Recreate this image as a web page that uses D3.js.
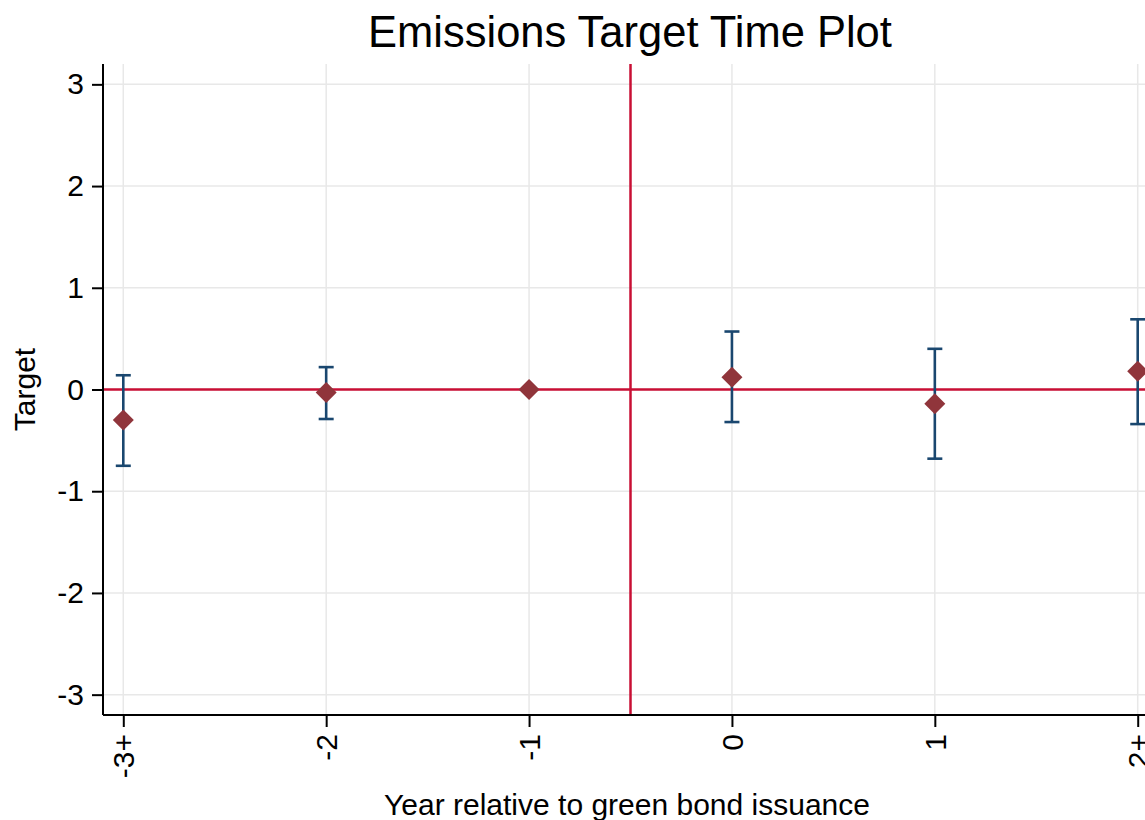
<!DOCTYPE html>
<html>
<head>
<meta charset="utf-8">
<script src="https://cdn.jsdelivr.net/npm/d3@7"></script>
<style>
  html, body { margin: 0; padding: 0; background: #ffffff; }
  svg { display: block; }
  text { font-family: "Liberation Sans", Arial, sans-serif; fill: #000; }
</style>
</head>
<body>
<div id="chart"></div>
<script>
// ---- data ----
const categories = ["-3+", "-2", "-1", "0", "1", "2+"];
const estimates  = [-0.30, -0.03, 0.00, 0.12, -0.14, 0.18];
const ciLower    = [-0.75, -0.29, null, -0.32, -0.68, -0.34];
const ciUpper    = [ 0.14,  0.22, null,  0.57,  0.40,  0.69];
const yTicks     = [-3, -2, -1, 0, 1, 2, 3];
const eventLine  = 2.5;   // between -1 and 0
const titleText  = "Emissions Target Time Plot";
const xTitle     = "Year relative to green bond issuance";
const yTitle     = "Target";

// ---- layout ----
const W = 1145, H = 820;
const pLeft = 103, pRight = 1158, pTop = 64, pBottom = 715;

const svg = d3.select("#chart").append("svg")
  .attr("width", W).attr("height", H);

const x = d3.scaleLinear().domain([-0.1, 5.1]).range([pLeft, pRight]);
const y = d3.scaleLinear().domain([-3.2, 3.2]).range([pBottom, pTop]);

const grid = "#e8e8e8";
const navy = "#1a476f";
const maroon = "#90353b";
const red = "#c80f34";

// gridlines
svg.append("g").selectAll("line").data(yTicks).join("line")
  .attr("x1", pLeft).attr("x2", W)
  .attr("y1", d => y(d)).attr("y2", d => y(d))
  .attr("stroke", grid).attr("stroke-width", 1.5);
svg.append("g").selectAll("line").data(categories).join("line")
  .attr("x1", (d, i) => x(i)).attr("x2", (d, i) => x(i))
  .attr("y1", pTop).attr("y2", pBottom)
  .attr("stroke", grid).attr("stroke-width", 1.5);

// reference lines
svg.append("line")
  .attr("x1", pLeft).attr("x2", W)
  .attr("y1", y(0)).attr("y2", y(0))
  .attr("stroke", red).attr("stroke-width", 2.5);
svg.append("line")
  .attr("x1", x(eventLine)).attr("x2", x(eventLine))
  .attr("y1", pTop).attr("y2", pBottom)
  .attr("stroke", red).attr("stroke-width", 2.5);

// axes
const yAxis = d3.axisLeft(y).tickValues(yTicks).tickSize(11).tickPadding(8)
  .tickFormat(d => d < 0 ? "-" + Math.abs(d) : String(d));
const gy = svg.append("g").attr("transform", `translate(${pLeft},0)`).call(yAxis);
gy.select(".domain").attr("d", `M0,${pTop}V${pBottom}`).attr("stroke", "#000").attr("stroke-width", 2);
gy.selectAll(".tick line").attr("stroke", "#000").attr("stroke-width", 2);
gy.selectAll(".tick text").style("font-size", "30px")
  .style("font-family", "'Liberation Sans', Arial, sans-serif").attr("fill", "#000");

const xAxis = d3.axisBottom(x).tickValues(d3.range(categories.length)).tickSize(12)
  .tickFormat(i => categories[i]);
const gx = svg.append("g").attr("transform", `translate(0,${pBottom})`).call(xAxis);
gx.select(".domain").attr("d", `M${pLeft},0H${W}`).attr("stroke", "#000").attr("stroke-width", 2);
gx.selectAll(".tick line").attr("stroke", "#000").attr("stroke-width", 2);
gx.selectAll(".tick text")
  .style("font-size", "30px")
  .style("font-family", "'Liberation Sans', Arial, sans-serif").attr("fill", "#000")
  .attr("text-anchor", "end")
  .attr("dominant-baseline", "central")
  .attr("dy", null)
  .attr("y", 0)
  .attr("transform", "translate(0,19) rotate(-90)");

// error bars
const ci = categories.map((c, i) => ({ i, lo: ciLower[i], hi: ciUpper[i] }))
  .filter(d => d.lo !== null);
const eb = svg.append("g").attr("stroke", navy).attr("stroke-width", 2.6).attr("fill", "none");
eb.append("g").selectAll("line").data(ci).join("line")
  .attr("x1", d => x(d.i)).attr("x2", d => x(d.i))
  .attr("y1", d => y(d.lo)).attr("y2", d => y(d.hi));
eb.append("g").selectAll("line").data(ci).join("line")
  .attr("x1", d => x(d.i) - 7.5).attr("x2", d => x(d.i) + 7.5)
  .attr("y1", d => y(d.hi)).attr("y2", d => y(d.hi));
eb.append("g").selectAll("line").data(ci).join("line")
  .attr("x1", d => x(d.i) - 7.5).attr("x2", d => x(d.i) + 7.5)
  .attr("y1", d => y(d.lo)).attr("y2", d => y(d.lo));

// diamonds
const r = 10.5;
svg.append("g").selectAll("path").data(estimates).join("path")
  .attr("d", (d, i) => {
    const cx = x(i), cy = y(d);
    return `M${cx},${cy - r}L${cx + r},${cy}L${cx},${cy + r}L${cx - r},${cy}Z`;
  })
  .attr("fill", maroon);

// titles
svg.append("text").attr("x", 630).attr("y", 47).attr("text-anchor", "middle")
  .style("font-size", "43.5px").text(titleText);
svg.append("text").attr("x", 627).attr("y", 815).attr("text-anchor", "middle")
  .style("font-size", "30px").text(xTitle);
svg.append("text").attr("transform", `translate(35,${y(0)}) rotate(-90)`)
  .attr("text-anchor", "middle")
  .style("font-size", "30px").text(yTitle);
</script>
</body>
</html>
